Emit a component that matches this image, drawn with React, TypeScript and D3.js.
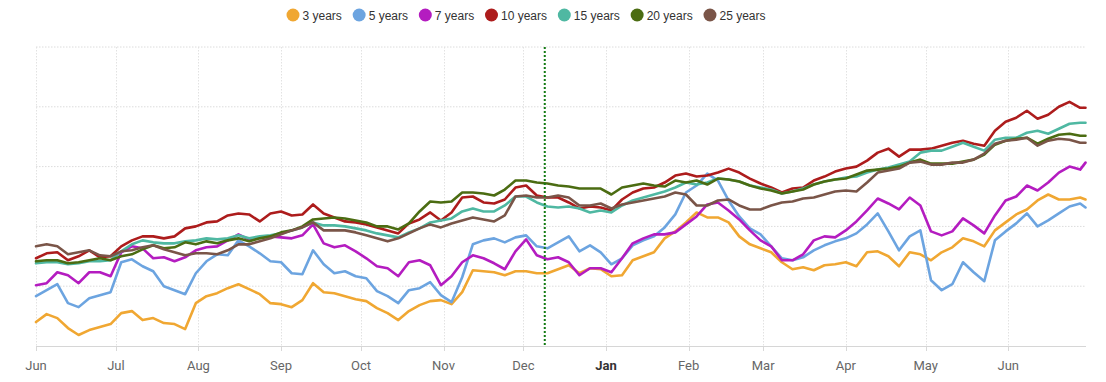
import React, { useEffect, useRef } from 'react';
import * as d3 from 'd3';

const startDate = new Date(Date.UTC(2022, 5, 1));
const endDate = new Date(Date.UTC(2023, 5, 30));
const dayOffsets: number[] = [...d3.range(0, 393, 4), 394];
const markerDate = new Date(Date.UTC(2022, 11, 9));

const seriesNames = ['3 years', '5 years', '7 years', '10 years', '15 years', '20 years', '25 years'];
const seriesColors = ['#f0a732', '#6ca4e0', '#b41cc0', '#ad1c1c', '#4fb8a2', '#4b6c12', '#7a5548'];

const y3 = [
  0.24,0.32,0.28,0.18,0.11,0.16,0.19,0.22,0.33,0.35,
  0.26,0.28,0.23,0.22,0.17,0.43,0.50,0.53,0.58,0.62,
  0.57,0.52,0.43,0.42,0.39,0.46,0.63,0.54,0.53,0.50,
  0.47,0.45,0.38,0.33,0.26,0.35,0.41,0.45,0.46,0.42,
  0.54,0.76,0.75,0.74,0.71,0.75,0.75,0.73,0.73,0.77,
  0.81,0.73,0.78,0.77,0.70,0.71,0.86,0.90,0.94,1.08,
  1.15,1.24,1.34,1.29,1.29,1.24,1.10,1.02,0.98,0.94,
  0.84,0.77,0.79,0.76,0.81,0.82,0.84,0.80,0.94,0.95,
  0.90,0.80,0.94,0.92,0.86,0.94,0.99,1.08,1.05,1.00,
  1.16,1.24,1.32,1.37,1.46,1.52,1.47,1.47,1.49,1.47,
];
const y5 = [
  0.50,0.56,0.62,0.43,0.39,0.48,0.51,0.54,0.84,0.87,
  0.80,0.75,0.60,0.56,0.52,0.73,0.85,0.92,0.91,1.06,
  1.00,0.93,0.85,0.84,0.73,0.72,0.96,0.82,0.73,0.75,
  0.70,0.68,0.55,0.50,0.43,0.56,0.58,0.64,0.51,0.44,
  0.69,1.02,1.06,1.08,1.04,1.09,1.11,1.00,0.98,1.04,
  1.10,0.95,1.01,0.94,0.82,0.88,1.01,1.06,1.10,1.19,
  1.32,1.54,1.61,1.73,1.66,1.46,1.30,1.18,1.12,1.00,
  0.88,0.86,0.89,0.96,1.01,1.05,1.08,1.13,1.22,1.33,
  1.15,0.96,1.10,1.16,0.66,0.56,0.62,0.84,0.74,0.65,
  1.06,1.15,1.23,1.33,1.20,1.26,1.33,1.40,1.43,1.39,
];
const y7 = [
  0.61,0.63,0.74,0.71,0.63,0.74,0.74,0.70,0.94,1.00,
  0.98,0.88,0.89,0.85,0.89,0.96,0.99,1.00,1.06,1.12,
  1.07,1.09,1.10,1.09,1.08,1.11,1.22,1.03,0.99,1.01,
  0.95,0.88,0.80,0.78,0.70,0.84,0.86,0.81,0.61,0.70,
  0.84,0.91,0.88,0.83,0.77,0.95,1.07,0.91,0.87,0.89,
  0.84,0.71,0.78,0.78,0.74,0.88,1.03,1.08,1.12,1.12,
  1.14,1.22,1.30,1.42,1.44,1.36,1.27,1.16,1.06,1.00,
  0.86,0.86,0.92,1.06,1.10,1.09,1.16,1.25,1.36,1.48,
  1.43,1.37,1.49,1.41,1.15,1.11,1.15,1.28,1.21,1.13,
  1.31,1.46,1.50,1.61,1.56,1.64,1.74,1.80,1.77,1.84,
];
const y10 = [
  0.88,0.93,0.94,0.86,0.90,0.96,0.89,0.90,1.00,1.06,
  1.10,1.10,1.08,1.10,1.18,1.20,1.24,1.25,1.31,1.33,
  1.32,1.25,1.33,1.35,1.31,1.32,1.42,1.33,1.29,1.25,
  1.24,1.22,1.19,1.16,1.13,1.23,1.27,1.34,1.26,1.34,
  1.49,1.50,1.44,1.43,1.47,1.59,1.61,1.51,1.49,1.49,
  1.44,1.38,1.40,1.39,1.36,1.47,1.54,1.58,1.59,1.64,
  1.71,1.73,1.70,1.71,1.74,1.78,1.74,1.68,1.63,1.59,
  1.54,1.58,1.59,1.66,1.70,1.75,1.78,1.80,1.86,1.94,
  1.98,1.90,1.97,1.97,1.98,2.01,2.04,2.06,2.03,2.01,
  2.16,2.25,2.29,2.36,2.28,2.32,2.40,2.45,2.39,2.39,
];
const y15 = [
  0.83,0.84,0.84,0.82,0.83,0.85,0.85,0.86,0.95,1.02,
  1.06,1.04,1.03,1.03,1.05,1.06,1.08,1.07,1.08,1.11,
  1.08,1.10,1.11,1.13,1.16,1.19,1.24,1.21,1.21,1.20,
  1.18,1.16,1.13,1.11,1.09,1.14,1.18,1.24,1.26,1.28,
  1.35,1.38,1.35,1.35,1.41,1.50,1.50,1.44,1.40,1.39,
  1.40,1.38,1.34,1.36,1.34,1.41,1.46,1.49,1.52,1.55,
  1.59,1.64,1.62,1.64,1.68,1.67,1.65,1.61,1.59,1.57,
  1.53,1.55,1.58,1.62,1.65,1.67,1.69,1.70,1.74,1.77,
  1.79,1.82,1.85,1.94,1.96,1.96,2.00,2.04,2.00,1.96,
  2.07,2.09,2.09,2.14,2.16,2.13,2.18,2.23,2.24,2.24,
];
const y20 = [
  0.85,0.86,0.86,0.83,0.84,0.86,0.88,0.86,0.90,0.92,
  0.97,1.01,0.98,0.99,1.04,1.02,1.05,1.03,1.06,1.08,
  1.05,1.08,1.10,1.14,1.16,1.20,1.27,1.28,1.29,1.28,
  1.26,1.24,1.20,1.20,1.17,1.23,1.35,1.45,1.44,1.45,
  1.54,1.54,1.53,1.51,1.57,1.66,1.66,1.64,1.63,1.61,
  1.60,1.58,1.58,1.58,1.52,1.59,1.61,1.63,1.61,1.60,
  1.66,1.64,1.66,1.62,1.68,1.67,1.65,1.61,1.58,1.56,
  1.53,1.55,1.57,1.62,1.65,1.67,1.68,1.72,1.76,1.77,
  1.78,1.80,1.84,1.87,1.83,1.83,1.83,1.85,1.87,1.92,
  2.02,2.06,2.08,2.09,2.03,2.08,2.12,2.13,2.11,2.11,
];
const y25 = [
  1.00,1.02,1.00,0.92,0.94,0.96,0.91,0.90,0.95,0.96,
  0.99,1.01,0.97,0.94,0.91,0.93,0.93,0.92,0.96,1.02,
  1.02,1.05,1.08,1.12,1.16,1.19,1.24,1.16,1.16,1.16,
  1.14,1.11,1.08,1.05,1.08,1.13,1.18,1.22,1.19,1.23,
  1.26,1.29,1.27,1.25,1.31,1.50,1.51,1.49,1.49,1.51,
  1.49,1.41,1.41,1.43,1.38,1.42,1.44,1.46,1.48,1.50,
  1.54,1.52,1.41,1.41,1.46,1.47,1.41,1.37,1.37,1.41,
  1.44,1.45,1.48,1.49,1.52,1.55,1.56,1.55,1.64,1.74,
  1.76,1.78,1.84,1.85,1.82,1.82,1.84,1.84,1.87,1.93,
  2.03,2.06,2.07,2.09,2.01,2.06,2.08,2.07,2.04,2.04,
];
const seriesValues = [y3, y5, y7, y10, y15, y20, y25];
const yTicks = [0.6, 1.2, 1.8, 2.4, 3.0];

const W = 1106;
const H = 382;

export default function App() {
  const ref = useRef<SVGSVGElement | null>(null);

  useEffect(() => {
    const svg = d3.select(ref.current);
    svg.selectAll('*').remove();

    const x = d3.scaleUtc().domain([startDate, endDate]).range([36, 1085.5]);
    const y = d3.scaleLinear().domain([0, 3]).range([346, 47]);

    const dates = dayOffsets.map((d) => d3.utcDay.offset(startDate, d));

    // grid
    const grid = svg.append('g');
    yTicks.forEach((t) => {
      grid.append('line')
        .attr('x1', 36).attr('x2', 1086)
        .attr('y1', y(t)).attr('y2', y(t))
        .attr('stroke', '#dcdcdc').attr('stroke-width', 1)
        .attr('stroke-dasharray', '1.5,1.5');
    });
    const months = d3.utcMonths(startDate, endDate);
    months.forEach((m) => {
      const px = Math.round(x(m)) + 0.5;
      grid.append('line')
        .attr('x1', px).attr('x2', px)
        .attr('y1', 47).attr('y2', 346)
        .attr('stroke', '#e2e2e2').attr('stroke-width', 1)
        .attr('stroke-dasharray', '1.5,1.5');
      grid.append('line')
        .attr('x1', px).attr('x2', px)
        .attr('y1', 346).attr('y2', 351)
        .attr('stroke', '#d8d8d8').attr('stroke-width', 1);
      const isJan = m.getUTCMonth() === 0;
      svg.append('text')
        .attr('x', x(m)).attr('y', 370)
        .attr('text-anchor', 'middle')
        .attr('font-family', 'Roboto, Arial, sans-serif')
        .attr('font-size', 13)
        .attr('font-weight', isJan ? 700 : 400)
        .attr('fill', isJan ? '#333' : '#666')
        .text(d3.utcFormat('%b')(m));
    });
    // axis line
    svg.append('line')
      .attr('x1', 36).attr('x2', 1086)
      .attr('y1', 346.5).attr('y2', 346.5)
      .attr('stroke', '#d6d6d6').attr('stroke-width', 1);

    // series lines
    const line = d3.line<number>()
      .x((_, i) => x(dates[i]))
      .y((v) => y(v));
    seriesValues.forEach((vals, si) => {
      svg.append('path')
        .attr('d', line(vals) || '')
        .attr('fill', 'none')
        .attr('stroke', seriesColors[si])
        .attr('stroke-width', 2.6)
        .attr('stroke-linejoin', 'round')
        .attr('stroke-linecap', 'round');
    });

    // marker line
    const mx = x(markerDate);
    svg.append('line')
      .attr('x1', mx).attr('x2', mx)
      .attr('y1', 47).attr('y2', 346)
      .attr('stroke', '#137a13').attr('stroke-width', 2)
      .attr('stroke-dasharray', '2,2');

    // legend
    const legend = svg.append('g');
    let cx = 293;
    seriesNames.forEach((name, i) => {
      legend.append('circle')
        .attr('cx', cx).attr('cy', 15).attr('r', 6.5)
        .attr('fill', seriesColors[i]);
      const t = legend.append('text')
        .attr('x', cx + 9.5).attr('y', 19.5)
        .attr('font-family', 'Arial, "Liberation Sans", sans-serif')
        .attr('font-size', 12)
        .attr('fill', '#333')
        .text(name);
      const w = (t.node() as SVGTextElement).getComputedTextLength();
      cx = cx + 9.5 + w + 17.3;
    });
  }, []);

  return (
    <svg
      ref={ref}
      width={W}
      height={H}
      style={{ position: 'absolute', left: 0, top: 0, background: '#fff' }}
    />
  );
}
